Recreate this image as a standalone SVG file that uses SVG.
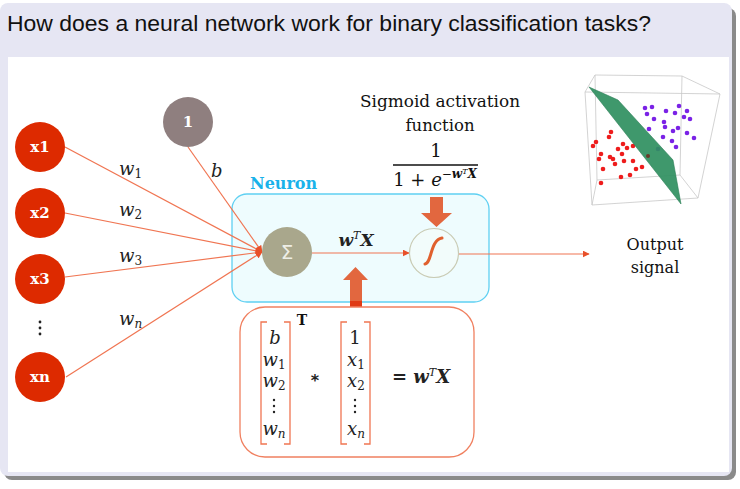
<svg xmlns="http://www.w3.org/2000/svg" width="740" height="489" viewBox="0 0 740 489">
<defs>
<style>
.slab{font-family:"DejaVu Serif","Liberation Serif",serif}
.math{font-family:"DejaVu Serif","Liberation Serif",serif;font-style:italic}
.edge{stroke:#f07552;stroke-width:1.2;fill:none}
.inp{fill:#dd2a00}
.inlbl{font-family:"DejaVu Serif",serif;font-weight:bold;font-size:15px;fill:#fff;text-anchor:middle}
.cube{stroke:#c8c8c8;stroke-width:0.8;fill:none}
.rd{fill:#ee1c1c}
.bd{fill:#7a22e6}
.brk{stroke:#f07552;stroke-width:1.3;fill:none}
.big{fill:#e2673f}
</style>
<marker id="ah" viewBox="0 0 10 10" refX="9" refY="5" markerWidth="7" markerHeight="7" orient="auto" markerUnits="userSpaceOnUse">
<path d="M0,0 L10,5 L0,10 z" fill="#e8502a"/>
</marker>
</defs>

<!-- frame -->
<rect x="4" y="8" width="732" height="472" rx="8" fill="#8a8a8a"/>
<rect x="0" y="3" width="732" height="473" rx="8" fill="#e6e6f3"/>
<rect x="8" y="57" width="721" height="415" fill="#ffffff"/>
<text x="7" y="31" font-family="Liberation Sans, Arial, sans-serif" font-size="22.5" fill="#111" textLength="644" lengthAdjust="spacingAndGlyphs">How does a neural network work for binary classification tasks?</text>

<!-- scatter plot -->
<g id="scatter">
<path class="cube" d="M595,75 L682,76 L720,94 L585,92 Z M585,92 L592,205 L698,198 L720,94 M595,75 L597,180 L680,175 L682,76 M597,180 L592,205 M680,175 L698,198"/>
<g>
<circle class="rd" cx="611" cy="132" r="2.3"/><circle class="rd" cx="609" cy="137" r="2.3"/>
<circle class="rd" cx="596" cy="142" r="2.3"/><circle class="rd" cx="593" cy="146" r="2.3"/>
<circle class="rd" cx="623" cy="144" r="2.3"/><circle class="rd" cx="618" cy="149" r="2.3"/>
<circle class="rd" cx="627" cy="148" r="2.3"/><circle class="rd" cx="633" cy="146" r="2.3"/>
<circle class="rd" cx="622" cy="154" r="2.3"/><circle class="rd" cx="601" cy="154" r="2.3"/>
<circle class="rd" cx="610" cy="157" r="2.3"/><circle class="rd" cx="613" cy="159" r="2.3"/>
<circle class="rd" cx="599" cy="159" r="2.3"/><circle class="rd" cx="624" cy="161" r="2.3"/>
<circle class="rd" cx="633" cy="161" r="2.3"/><circle class="rd" cx="615" cy="164" r="2.3"/>
<circle class="rd" cx="603" cy="169" r="2.3"/><circle class="rd" cx="642" cy="167" r="2.3"/>
<circle class="rd" cx="636" cy="169" r="2.3"/><circle class="rd" cx="630" cy="175" r="2.3"/>
<circle class="rd" cx="621" cy="177" r="2.3"/><circle class="rd" cx="601" cy="183" r="2.3"/>
</g>
<g>
<circle class="bd" cx="645" cy="108" r="2.3"/><circle class="bd" cx="652" cy="107" r="2.3"/>
<circle class="bd" cx="647" cy="114" r="2.3"/><circle class="bd" cx="654" cy="119" r="2.3"/>
<circle class="bd" cx="666" cy="111" r="2.3"/><circle class="bd" cx="675" cy="113" r="2.3"/>
<circle class="bd" cx="679" cy="106" r="2.3"/><circle class="bd" cx="687" cy="111" r="2.3"/>
<circle class="bd" cx="684" cy="117" r="2.3"/><circle class="bd" cx="690" cy="119" r="2.3"/>
<circle class="bd" cx="664" cy="122" r="2.3"/><circle class="bd" cx="649" cy="129" r="2.3"/>
<circle class="bd" cx="665" cy="127" r="2.3"/><circle class="bd" cx="673" cy="131" r="2.3"/>
<circle class="bd" cx="678" cy="128" r="2.3"/><circle class="bd" cx="687" cy="133" r="2.3"/>
<circle class="bd" cx="694" cy="138" r="2.3"/><circle class="bd" cx="663" cy="137" r="2.3"/>
<circle class="bd" cx="672" cy="141" r="2.3"/><circle class="bd" cx="658" cy="149" r="2.3"/>
<circle class="bd" cx="676" cy="147" r="2.3"/>
</g>
<polygon points="589,87 618,100 673,160 681,204" fill="#2f8f60" fill-opacity="0.92" stroke="#2a7d55" stroke-width="0.6"/>
<circle cx="648" cy="156" r="2" fill="#6a3a2a"/>
</g>

<!-- neuron box (behind connectors) -->
<g id="neuron">
<rect x="232" y="194" width="257" height="108" rx="15" fill="#eefcfe" stroke="#5fd0f2" stroke-width="1.3"/>
<text class="slab" x="250" y="189" font-size="16" font-weight="bold" fill="#19b2ea">Neuron</text>
</g>

<!-- connectors -->
<g id="connectors">
<line class="edge" x1="65" y1="147" x2="262" y2="252" marker-end="url(#ah)"/>
<line class="edge" x1="65" y1="213" x2="262" y2="252" marker-end="url(#ah)"/>
<line class="edge" x1="65" y1="277" x2="262" y2="252" marker-end="url(#ah)"/>
<line class="edge" x1="66" y1="377" x2="262" y2="252" marker-end="url(#ah)"/>
<line class="edge" x1="188" y1="147" x2="262" y2="252" marker-end="url(#ah)"/>
<line class="edge" x1="312" y1="253" x2="409" y2="253" marker-end="url(#ah)"/>
<line class="edge" x1="459" y1="254" x2="589" y2="254" marker-end="url(#ah)"/>
</g>

<!-- edge labels -->
<g id="edge-labels" class="math" font-size="18" fill="#222">
<text x="119" y="175">w<tspan font-size="12" font-style="normal" dy="3">1</tspan></text>
<text x="119" y="216">w<tspan font-size="12" font-style="normal" dy="3">2</tspan></text>
<text x="119" y="262">w<tspan font-size="12" font-style="normal" dy="3">3</tspan></text>
<text x="119" y="325">w<tspan font-size="12" dy="3">n</tspan></text>
<text x="211" y="177">b</text>
</g>

<!-- inputs -->
<g id="x1"><circle class="inp" cx="40" cy="147" r="25"/><text class="inlbl" x="40" y="152">x1</text></g>
<g id="x2"><circle class="inp" cx="40" cy="213" r="25"/><text class="inlbl" x="40" y="218">x2</text></g>
<g id="x3"><circle class="inp" cx="40" cy="279" r="25"/><text class="inlbl" x="40" y="284">x3</text></g>
<g id="dots"><circle cx="40" cy="322" r="1.4" fill="#222"/><circle cx="40" cy="328" r="1.4" fill="#222"/><circle cx="40" cy="334" r="1.4" fill="#222"/></g>
<g id="xn"><circle class="inp" cx="40" cy="377" r="25"/><text class="inlbl" x="40" y="382">xn</text></g>
<g id="bias"><circle cx="188" cy="122" r="25" fill="#8f7f7f"/><text class="inlbl" x="188" y="127">1</text></g>

<g id="sum">
<circle cx="287" cy="252" r="25" fill="#a9a78c"/>
<text x="287" y="259" font-family="DejaVu Sans, sans-serif" font-size="20" fill="#eeeee6" text-anchor="middle">Σ</text>
</g>
<text x="356" y="246" font-family="DejaVu Serif, serif" font-weight="bold" font-style="italic" font-size="17" fill="#222" text-anchor="middle">w<tspan font-size="11" font-weight="normal" dy="-7">T</tspan><tspan dy="7">X</tspan></text>
<g id="sigmoid">
<circle cx="434" cy="253" r="24.5" fill="#f2fcfb" stroke="#c9cbb4" stroke-width="1.2"/>
<path d="M425,264 C432,263 430,240 442,238" stroke="#e0602e" stroke-width="3" fill="none" stroke-linecap="round"/>
</g>

<!-- sigmoid label -->
<g id="sigmoid-label" fill="#111">
<text class="slab" x="440" y="107" font-size="16.5" text-anchor="middle" textLength="160" lengthAdjust="spacingAndGlyphs">Sigmoid activation</text>
<text class="slab" x="440" y="131" font-size="16.5" text-anchor="middle">function</text>
<text x="436" y="157" font-family="DejaVu Serif, serif" font-size="18" text-anchor="middle">1</text>
<line x1="393" y1="165" x2="478" y2="165" stroke="#111" stroke-width="1.3"/>
<text x="435" y="186" font-family="DejaVu Serif, serif" font-size="18" text-anchor="middle">1 + <tspan font-style="italic">e</tspan><tspan font-size="12" dy="-8">−</tspan><tspan font-size="12" font-weight="bold" font-style="italic">w</tspan><tspan font-size="8" font-style="italic" dy="-4">T</tspan><tspan font-size="12" font-weight="bold" font-style="italic" dy="4">X</tspan></text>
</g>

<!-- big arrows -->
<path class="big" d="M430,197 L443,197 L443,213 L452,213 L436.5,227 L421,213 L430,213 Z"/>
<path class="big" d="M350,307 L350,280 L343,280 L355.5,267 L368,280 L362,280 L362,307 Z"/>
<rect x="350" y="301" width="12" height="6" fill="#e03a14"/>

<!-- output -->
<g id="output">
<text class="slab" x="655" y="250" font-size="16" text-anchor="middle" fill="#111">Output</text>
<text class="slab" x="655" y="273" font-size="16" text-anchor="middle" fill="#111">signal</text>
</g>

<!-- matrix -->
<g id="matrix">
<rect x="240" y="307" width="234" height="150" rx="25" fill="#ffffff" stroke="#f08060" stroke-width="1.3"/>
<path class="brk" d="M267,322 L261,322 L261,444 L267,444 M284,322 L290,322 L290,444 L284,444"/>
<path class="brk" d="M347,322 L341,322 L341,444 L347,444 M364,322 L370,322 L370,444 L364,444"/>
<text class="slab" x="302" y="325" font-size="14" font-weight="bold" fill="#111" text-anchor="middle">T</text>
<g class="math" font-size="18" fill="#222" text-anchor="middle">
<text x="275" y="344">b</text>
<text x="274" y="366">w<tspan font-size="12" font-style="normal" dy="3">1</tspan></text>
<text x="274" y="387">w<tspan font-size="12" font-style="normal" dy="3">2</tspan></text>
<text x="274" y="435">w<tspan font-size="12" dy="3">n</tspan></text>
<text x="355" y="344" font-style="normal">1</text>
<text x="356" y="366">x<tspan font-size="12" font-style="normal" dy="3">1</tspan></text>
<text x="356" y="387">x<tspan font-size="12" font-style="normal" dy="3">2</tspan></text>
<text x="356" y="435">x<tspan font-size="12" dy="3">n</tspan></text>
</g>
<g fill="#222">
<circle cx="274" cy="400" r="1.2"/><circle cx="274" cy="406" r="1.2"/><circle cx="274" cy="412" r="1.2"/>
<circle cx="355" cy="400" r="1.2"/><circle cx="355" cy="406" r="1.2"/><circle cx="355" cy="412" r="1.2"/>
</g>
<text x="315" y="386" font-family="DejaVu Sans, sans-serif" font-weight="bold" font-size="16" fill="#222" text-anchor="middle">*</text>
<text x="392" y="383" font-family="DejaVu Serif, serif" font-weight="bold" font-size="18" fill="#222">= <tspan font-style="italic">w</tspan><tspan font-size="11" font-weight="normal" font-style="italic" dy="-7">T</tspan><tspan font-style="italic" dy="7">X</tspan></text>
</g>
</svg>
